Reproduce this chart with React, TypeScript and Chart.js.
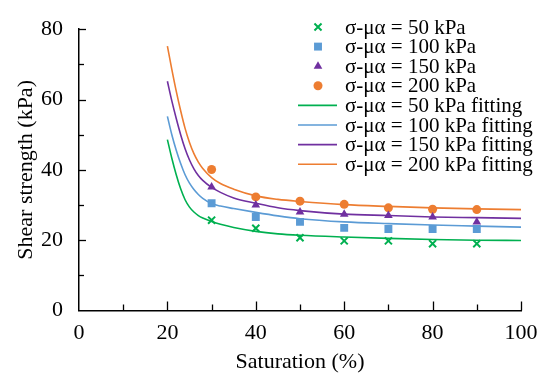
import React, { useEffect, useRef } from "react";
import { Chart, registerables } from "chart.js";

Chart.register(...registerables);

// ---- data ----
const saturation = [30, 40, 50, 60, 70, 80, 90];
const measured50 = [25.7, 23.4, 20.7, 19.8, 19.8, 19.0, 19.0];
const measured100 = [30.5, 26.6, 25.2, 23.5, 23.2, 23.2, 23.2];
const measured150 = [35.1, 30.0, 28.0, 27.4, 27.0, 26.6, 25.2];
const measured200 = [40.1, 32.3, 31.1, 30.2, 29.2, 28.8, 28.7];

const fitSaturation = [20, 21, 22, 23, 24, 25, 26, 27, 28, 30, 32, 35, 40, 45, 50, 60, 70, 80, 90, 100];
const fit50 = [48.6, 43.3, 38.6, 34.6, 31.5, 29.4, 28.0, 27.0, 26.3, 25.3, 24.5, 23.6, 22.5, 21.8, 21.4, 20.9, 20.5, 20.2, 20.0, 19.9];
const fit100 = [55.2, 50.0, 45.6, 41.8, 38.6, 36.2, 34.4, 33.0, 31.9, 30.4, 29.7, 29.0, 27.9, 26.9, 26.1, 25.2, 24.7, 24.3, 24.0, 23.7];
const fit150 = [65.2, 59.6, 54.6, 50.0, 46.0, 42.8, 40.3, 38.4, 37.0, 35.0, 33.6, 32.0, 30.5, 29.2, 28.4, 27.4, 27.0, 26.6, 26.4, 26.2];
const fit200 = [75.2, 68.6, 62.4, 56.8, 51.8, 47.8, 44.6, 42.2, 40.4, 37.8, 36.1, 34.5, 32.6, 31.6, 31.0, 30.1, 29.6, 29.2, 28.9, 28.7];

const seriesLabels = [
  "σ-μα = 50 kPa",
  "σ-μα = 100 kPa",
  "σ-μα = 150 kPa",
  "σ-μα = 200 kPa",
  "σ-μα = 50 kPa fitting",
  "σ-μα = 100 kPa fitting",
  "σ-μα = 150 kPa fitting",
  "σ-μα = 200 kPa fitting",
];

const GREEN = "#00b050";
const BLUE = "#5b9bd5";
const PURPLE = "#7030a0";
const ORANGE = "#ed7d31";

const FONT = "'Liberation Serif', 'Times New Roman', serif";

const toXY = (xs: number[], ys: number[]) => xs.map((x, i) => ({ x, y: ys[i] }));

const inwardTicks = {
  id: "inwardTicks",
  afterDraw(chart: any) {
    const ctx = chart.ctx;
    const xs = chart.scales.x;
    const ys = chart.scales.y;
    const area = chart.chartArea;
    ctx.save();
    ctx.strokeStyle = "#000";
    ctx.lineWidth = 1.3;
    xs.ticks.forEach((t: any) => {
      if (t.value === 0) return;
      const px = Math.round(xs.getPixelForValue(t.value)) + 0.5;
      const len = t.value % 20 === 0 ? 9 : 6;
      ctx.beginPath();
      ctx.moveTo(px, area.bottom);
      ctx.lineTo(px, area.bottom - len);
      ctx.stroke();
    });
    ys.ticks.forEach((t: any) => {
      if (t.value === 0) return;
      const py = Math.round(ys.getPixelForValue(t.value)) + 0.5;
      const len = t.value % 20 === 0 ? 7 : 5;
      ctx.beginPath();
      ctx.moveTo(area.left, py);
      ctx.lineTo(area.left + len, py);
      ctx.stroke();
    });
    ctx.restore();
  },
};

function drawPointSymbol(ctx: CanvasRenderingContext2D, style: string, r: number, x: number, y: number) {
  ctx.beginPath();
  if (style === "circle") {
    ctx.arc(x, y, r, 0, Math.PI * 2);
    ctx.fill();
  } else if (style === "rect") {
    const s = r * Math.SQRT1_2;
    ctx.rect(x - s, y - s, 2 * s, 2 * s);
    ctx.fill();
  } else if (style === "triangle") {
    const h = r * 1.5;
    const side = (r * 3) / Math.sqrt(3);
    ctx.moveTo(x - side / 2, y + h / 3);
    ctx.lineTo(x + side / 2, y + h / 3);
    ctx.lineTo(x, y - (2 * h) / 3);
    ctx.closePath();
    ctx.fill();
  } else if (style === "crossRot") {
    const d = Math.cos(Math.PI / 4) * r;
    ctx.moveTo(x - d, y - d);
    ctx.lineTo(x + d, y + d);
    ctx.moveTo(x + d, y - d);
    ctx.lineTo(x - d, y + d);
    ctx.stroke();
  }
}

const customLegend = {
  id: "customLegend",
  afterDraw(chart: any) {
    const ctx = chart.ctx;
    const rowY0 = 27;
    const step = 19.6;
    const symX = 318;
    const textX = 345;
    ctx.save();
    ctx.font = `21px ${FONT}`;
    ctx.textBaseline = "middle";
    ctx.textAlign = "left";
    chart.data.datasets.forEach((ds: any, i: number) => {
      const y = rowY0 + i * step;
      if (ds.showLine) {
        ctx.strokeStyle = ds.borderColor;
        ctx.lineWidth = 1.6;
        ctx.beginPath();
        ctx.moveTo(298, y);
        ctx.lineTo(337, y);
        ctx.stroke();
      } else {
        ctx.strokeStyle = ds.pointBorderColor;
        ctx.fillStyle = ds.pointBackgroundColor;
        ctx.lineWidth = ds.pointBorderWidth;
        drawPointSymbol(ctx, ds.pointStyle, ds.pointRadius, symX, y);
      }
      ctx.fillStyle = "#000";
      ctx.fillText(ds.label, textX, y + 1);
    });
    ctx.restore();
  },
};

function scatterSet(label: string, ys: number[], color: string, style: string, radius: number) {
  return {
    type: "scatter" as const,
    label,
    data: toXY(saturation, ys),
    showLine: false,
    pointStyle: style,
    pointRadius: radius,
    pointBorderWidth: style === "crossRot" ? 2 : 0,
    pointBackgroundColor: color,
    pointBorderColor: color,
    backgroundColor: color,
    borderColor: color,
    order: 0,
  };
}

function lineSet(label: string, ys: number[], color: string) {
  return {
    type: "line" as const,
    label,
    data: toXY(fitSaturation, ys),
    showLine: true,
    borderColor: color,
    backgroundColor: color,
    borderWidth: 1.6,
    pointRadius: 0,
    fill: false,
    cubicInterpolationMode: "monotone" as const,
    order: 1,
  };
}

export default function App() {
  const ref = useRef<HTMLCanvasElement | null>(null);

  useEffect(() => {
    if (!ref.current) return;
    const chart = new Chart(ref.current, {
      type: "scatter",
      data: {
        datasets: [
          scatterSet(seriesLabels[0], measured50, GREEN, "crossRot", 5),
          scatterSet(seriesLabels[1], measured100, BLUE, "rect", 5.6),
          scatterSet(seriesLabels[2], measured150, PURPLE, "triangle", 5),
          scatterSet(seriesLabels[3], measured200, ORANGE, "circle", 4.5),
          lineSet(seriesLabels[4], fit50, GREEN),
          lineSet(seriesLabels[5], fit100, BLUE),
          lineSet(seriesLabels[6], fit150, PURPLE),
          lineSet(seriesLabels[7], fit200, ORANGE),
        ] as any,
      },
      options: {
        responsive: false,
        animation: false,
        layout: { padding: { left: 0, right: 29, top: 20.5, bottom: 0 } },
        plugins: {
          legend: { display: false },
          tooltip: { enabled: false },
        },
        scales: {
          x: {
            type: "linear",
            min: 0,
            max: 100,
            ticks: {
              stepSize: 10,
              color: "#000",
              font: { family: FONT, size: 22 },
              padding: 10,
              maxRotation: 0,
              autoSkip: false,
              callback: (v: any) => (Number(v) % 20 === 0 ? String(v) : ""),
            },
            grid: { display: false, drawTicks: false },
            border: { display: true, color: "#000", width: 1.5 },
            title: {
              display: true,
              text: "Saturation (%)",
              color: "#000",
              font: { family: FONT, size: 22 },
              padding: { top: 0, bottom: 8 },
            },
            afterFit: (scale: any) => {
              scale.height = 72.5;
            },
          },
          y: {
            type: "linear",
            min: 0,
            max: 80,
            ticks: {
              stepSize: 10,
              color: "#000",
              font: { family: FONT, size: 22 },
              padding: 16,
              autoSkip: false,
              callback: (v: any) => (Number(v) % 20 === 0 ? String(v) : ""),
            },
            grid: { display: false, drawTicks: false },
            border: { display: true, color: "#000", width: 1.5 },
            title: {
              display: true,
              text: "Shear strength (kPa)",
              color: "#000",
              font: { family: FONT, size: 22 },
              padding: { top: 13, bottom: 0 },
            },
            afterFit: (scale: any) => {
              scale.width = 79;
            },
          },
        },
      } as any,
      plugins: [inwardTicks, customLegend],
    });
    return () => chart.destroy();
  }, []);

  return (
    <div style={{ position: "absolute", left: 0, top: 0, width: 550, height: 383 }}>
      <canvas ref={ref} width={550} height={383} style={{ display: "block", width: 550, height: 383 }} />
    </div>
  );
}
